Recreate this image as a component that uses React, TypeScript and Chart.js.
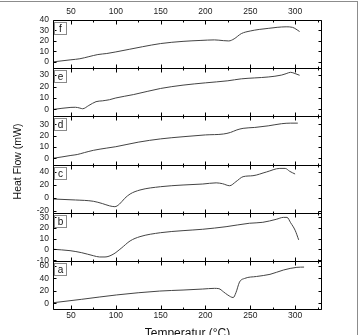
import React, { useEffect, useRef } from "react";
import { Chart, registerables } from "chart.js";

Chart.register(...registerables);

const FONT = '"Liberation Sans", Arial, Helvetica, sans-serif';

const xRange = [30, 330];
const xLabelTicks = [50, 100, 150, 200, 250, 300];
const xMinorTicks = [75, 125, 175, 225, 275, 325];
const xTitle = "Temperatur (°C)";
const yTitle = "Heat Flow (mW)";

const panelLabels = ["a", "b", "c", "d", "e", "f"];

const tempA = [30, 62, 101, 149, 175, 197, 210, 215, 220, 225, 231, 234, 238, 244, 257, 272, 287, 302, 310];
const flowA = [1, 6.5, 13.5, 19.7, 21.3, 22.9, 24, 23.5, 18.6, 13.3, 9.3, 17, 34, 40, 43, 46.4, 53.3, 57.6, 58];
const ticksA = [0, 20, 40, 60];
const rangeA = [-9, 68];

const tempB = [30, 49, 62, 75, 82, 88, 97, 106, 116, 127, 150, 175, 197, 223, 249, 264, 279, 287, 291, 295, 300, 304];
const flowB = [0.2, -1.1, -3, -5.8, -7, -7, -4.5, 1.1, 8, 12, 15.7, 17.6, 18.9, 21.3, 24.5, 25.4, 28.2, 30, 30, 25, 18, 9];
const ticksB = [-10, 0, 10, 20, 30];
const rangeB = [-10.6, 34.4];

const tempC = [30, 55, 75, 85, 93, 99, 104, 110, 116, 127, 150, 175, 197, 212, 219, 227, 234, 242, 253, 268, 283, 289, 294, 300];
const flowC = [-2, -3.5, -5.5, -9, -12.5, -13.8, -10, -1, 5.7, 11.8, 16.9, 19.5, 21, 22.8, 21.5, 18.4, 24.6, 32.3, 33.8, 39.5, 45, 45, 40.5, 36.4];
const ticksC = [-20, 0, 20, 40];
const rangeC = [-23, 51];

const tempD = [30, 40, 50, 57, 65, 75, 90, 100, 125, 150, 175, 200, 220, 228, 235, 242, 255, 270, 285, 295, 303];
const flowD = [0, 1.2, 2.5, 3.3, 5, 7, 9, 10.2, 14.2, 17.1, 19, 20.6, 21.4, 22.8, 25, 26.4, 27.2, 28.6, 30.5, 31, 31];
const ticksD = [0, 10, 20, 30];
const rangeD = [-5.5, 37];

const tempE = [30, 40, 50, 55, 60, 63, 70, 78, 85, 93, 100, 120, 150, 175, 200, 225, 240, 255, 270, 285, 290, 295, 300, 305];
const flowE = [0, 1, 1.8, 1.9, 1.2, 0.6, 3.5, 6.8, 7.5, 8.5, 10, 13, 18.3, 21.2, 23.2, 25, 26.7, 27.5, 28.3, 30, 31.2, 32.4, 31.3, 29.8];
const ticksE = [0, 10, 20, 30];
const rangeE = [-6, 36];

const tempF = [30, 40, 50, 60, 70, 80, 90, 100, 115, 130, 150, 175, 195, 210, 220, 226, 232, 240, 250, 260, 270, 280, 290, 297, 305];
const flowF = [0, 1, 2, 3, 5, 7, 8, 9.5, 12, 14.5, 17.5, 19.6, 20.5, 21, 20.3, 20, 22, 27, 29.5, 31, 32, 33, 33.5, 33, 29];
const ticksF = [0, 10, 20, 30, 40];
const rangeF = [-6, 40];

const series = [
  { label: panelLabels[0], temps: tempA, flows: flowA, ticks: ticksA, range: rangeA },
  { label: panelLabels[1], temps: tempB, flows: flowB, ticks: ticksB, range: rangeB },
  { label: panelLabels[2], temps: tempC, flows: flowC, ticks: ticksC, range: rangeC },
  { label: panelLabels[3], temps: tempD, flows: flowD, ticks: ticksD, range: rangeD },
  { label: panelLabels[4], temps: tempE, flows: flowE, ticks: ticksE, range: rangeE },
  { label: panelLabels[5], temps: tempF, flows: flowF, ticks: ticksF, range: rangeF },
];

const decorPlugin = {
  id: "decor",
  afterDraw(chart: any) {
    const { ctx, chartArea: ca, scales } = chart;
    const xs = scales.x;
    const px = (v: number) => Math.round(v) + 0.5;
    const L = px(ca.left);
    const R = px(ca.right) - 1;
    ctx.save();
    ctx.strokeStyle = "#000";
    ctx.lineWidth = 1;
    ctx.beginPath();
    ctx.moveTo(L, px(ca.top));
    ctx.lineTo(R, px(ca.top));
    ctx.lineTo(R, px(ca.bottom));
    ctx.lineTo(L, px(ca.bottom));
    ctx.closePath();
    ctx.stroke();
    series.forEach((s) => {
      const ys = scales["y" + s.label];
      const top = px(ys.top);
      const bot = px(ys.bottom);
      ctx.beginPath();
      ctx.moveTo(L, bot);
      ctx.lineTo(R, bot);
      s.ticks.forEach((v) => {
        const y = px(ys.getPixelForValue(v));
        ctx.moveTo(L, y);
        ctx.lineTo(L + 3, y);
        ctx.moveTo(R, y);
        ctx.lineTo(R - 3, y);
      });
      xLabelTicks.forEach((v) => {
        const x = px(xs.getPixelForValue(v));
        ctx.moveTo(x, top);
        ctx.lineTo(x, top + 4);
        ctx.moveTo(x, bot);
        ctx.lineTo(x, bot - 4);
      });
      xMinorTicks.forEach((v) => {
        const x = px(xs.getPixelForValue(v));
        ctx.moveTo(x, top);
        ctx.lineTo(x, top + 2);
        ctx.moveTo(x, bot);
        ctx.lineTo(x, bot - 2);
      });
      ctx.stroke();
      // panel letter box
      ctx.strokeStyle = "#8a8a8a";
      ctx.strokeRect(L + 1, top + 2, 12, 12);
      ctx.strokeStyle = "#000";
      ctx.fillStyle = "#111";
      ctx.font = `10px ${FONT}`;
      ctx.textAlign = "center";
      ctx.textBaseline = "middle";
      ctx.fillText(s.label, L + 7, top + 8.5);
    });
    // y title
    ctx.translate(18, (ca.top + ca.bottom) / 2 - 3);
    ctx.rotate(-Math.PI / 2);
    ctx.font = `10.5px ${FONT}`;
    ctx.fillStyle = "#111";
    ctx.textAlign = "center";
    ctx.textBaseline = "middle";
    ctx.fillText(yTitle, 0, 0);
    ctx.restore();
  },
};

export default function App() {
  const ref = useRef<HTMLCanvasElement | null>(null);

  useEffect(() => {
    if (!ref.current) return;
    const yScales: any = {};
    series.forEach((s) => {
      yScales["y" + s.label] = {
        type: "linear",
        position: "left",
        stack: "panels",
        stackWeight: 1,
        offset: false,
        min: s.range[0],
        max: s.range[1],
        grid: { display: false, drawTicks: false },
        border: { display: false },
        ticks: {
          autoSkip: false,
          padding: 4,
          color: "#222",
          font: { family: FONT, size: 8.5 },
        },
        afterBuildTicks: (sc: any) => {
          sc.ticks = s.ticks.map((v) => ({ value: v }));
        },
        afterFit: (sc: any) => {
          sc.width = 53;
        },
      };
    });
    const xCommon = {
      type: "linear",
      min: xRange[0],
      max: xRange[1],
      grid: { display: false, drawTicks: false },
      border: { display: false },
      afterBuildTicks: (sc: any) => {
        sc.ticks = xLabelTicks.map((v) => ({ value: v }));
      },
    };
    const chart = new Chart(ref.current, {
      type: "line",
      data: {
        datasets: series.map((s) => ({
          label: s.label,
          data: s.temps.map((t, i) => ({ x: t, y: s.flows[i] })),
          xAxisID: "x",
          yAxisID: "y" + s.label,
          borderColor: "#444",
          borderWidth: 1,
          pointRadius: 0,
          fill: false,
          cubicInterpolationMode: "monotone",
        })),
      },
      options: {
        animation: false,
        responsive: false,
        maintainAspectRatio: false,
        layout: { padding: { left: 0, right: 38, top: 0, bottom: 0 } },
        plugins: { legend: { display: false }, tooltip: { enabled: false } },
        scales: {
          x: {
            ...xCommon,
            position: "bottom",
            ticks: { autoSkip: false, maxRotation: 0, padding: 2, color: "#222", font: { family: FONT, size: 8.5 } },
            title: {
              display: true,
              text: xTitle,
              color: "#111",
              font: { family: FONT, size: 12 },
              padding: { top: 0, bottom: 4 },
            },
            afterFit: (sc: any) => {
              sc.height = 36;
            },
          },
          x2: {
            ...xCommon,
            position: "top",
            ticks: { autoSkip: false, maxRotation: 0, padding: 3.5, color: "#222", font: { family: FONT, size: 8.5 } },
            afterFit: (sc: any) => {
              sc.height = 20;
            },
          },
          ...yScales,
        },
      } as any,
      plugins: [decorPlugin],
    });
    return () => chart.destroy();
  }, []);

  return (
    <div style={{ position: "relative", width: 360, height: 335, overflow: "hidden", background: "#fff" }}>
      <style>{`html,body{margin:0;padding:0;overflow:hidden;background:#fff}`}</style>
      <canvas ref={ref} width={360} height={345} style={{ display: "block", width: 360, height: 345 }} />
      <div
        style={{
          position: "absolute",
          left: -2,
          top: 1,
          width: 360,
          height: 400,
          boxSizing: "border-box",
          border: "1px solid #8c8c8c",
          pointerEvents: "none",
        }}
      />
    </div>
  );
}
